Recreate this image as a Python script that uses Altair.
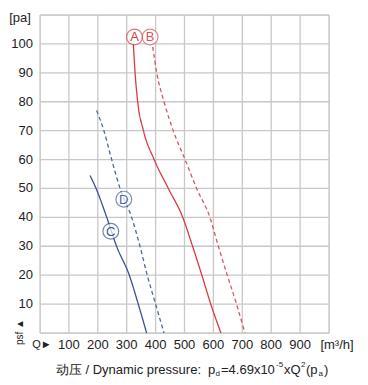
import altair as alt
import pandas as pd

FONT = "Liberation Sans"

# Curve data (Q in m3/h, static pressure in Pa)
a_q = [323, 329, 338, 358, 395, 444, 494, 528, 560, 591, 626]
a_p = [100, 90, 80, 70, 60, 50, 40, 30, 20, 10, 0]
b_q = [390, 404, 429, 461, 502, 542, 588, 617, 648, 680, 709]
b_p = [99, 90, 80, 70, 60, 50, 40, 30, 20, 10, 0]
c_q = [173, 194, 231, 265, 309, 340, 369]
c_p = [54.5, 50, 40, 30, 20, 10, 0]
d_q = [196, 221, 248, 277, 317, 346, 371, 400, 429]
d_p = [77, 70, 60, 50, 40, 30, 20, 10, 0]

# Curve label markers
labels = ["A", "B", "C", "D"]
label_q = [327, 381, 245, 290]
label_p = [102.4, 102.4, 35.2, 46.3]

series_names = ["A", "B", "C", "D"]
series_colors = ["#d63c46", "#d9555d", "#3a5290", "#4a679f"]
series_dash = [[1, 0], [4, 3], [1, 0], [4, 3]]

# Grid and tick labels
x_grid = [0, 100, 200, 300, 400, 500, 600, 700, 800, 900, 1000]
y_grid = [0, 10, 20, 30, 40, 50, 60, 70, 80, 90, 100, 110]
x_tick_labels = [100, 200, 300, 400, 500, 600, 700, 800, 900]
y_tick_labels = [10, 20, 30, 40, 50, 60, 70, 80, 90, 100]

rows = []
for name, qs, ps in [("A", a_q, a_p), ("B", b_q, b_p), ("C", c_q, c_p), ("D", d_q, d_p)]:
    for q, p in zip(qs, ps):
        rows.append({"s": name, "q": q, "p": p})
df = pd.DataFrame(rows)
lab_df = pd.DataFrame({"s": labels, "q": label_q, "p": label_p})

W, H = 289, 318
GRID = "#c8c8c8"

xscale = alt.Scale(domain=[0, 1000], nice=False)
yscale = alt.Scale(domain=[0, 110], nice=False)
cscale = alt.Scale(domain=series_names, range=series_colors)
dscale = alt.Scale(domain=series_names, range=series_dash)

X = alt.X("q:Q", scale=xscale, axis=None)
Y = alt.Y("p:Q", scale=yscale, axis=None)

vgrid = alt.Chart(pd.DataFrame({"q": x_grid})).mark_rule(color=GRID, strokeWidth=1.3).encode(
    x=X, y=alt.value(0), y2=alt.value(H))
hgrid = alt.Chart(pd.DataFrame({"p": y_grid})).mark_rule(color=GRID, strokeWidth=1.3).encode(
    y=Y, x=alt.value(0), x2=alt.value(W))

xlabels = alt.Chart(pd.DataFrame({"q": x_tick_labels})).mark_text(
    font=FONT, fontSize=13, color="#222", baseline="middle", align="center").encode(
    x=X, y=alt.value(H + 12), text=alt.Text("q:Q"))
ylabels = alt.Chart(pd.DataFrame({"p": y_tick_labels})).mark_text(
    font=FONT, fontSize=13, color="#222", baseline="middle", align="right").encode(
    y=Y, x=alt.value(-7), text=alt.Text("p:Q"))

lines = alt.Chart(df).mark_line(strokeWidth=1.3, interpolate="monotone").encode(
    x=X, y=Y,
    color=alt.Color("s:N", scale=cscale, legend=None),
    strokeDash=alt.StrokeDash("s:N", scale=dscale, legend=None),
    detail="s:N",
)

circles = alt.Chart(lab_df).mark_point(shape="circle", filled=True, size=250, strokeWidth=1.2).encode(
    x=X, y=Y,
    fill=alt.value("white"),
    stroke=alt.Color("s:N", scale=cscale, legend=None),
)
letters = alt.Chart(lab_df).mark_text(font=FONT, fontSize=13, baseline="middle", align="center", dy=0.5).encode(
    x=X, y=Y,
    text="s:N",
    color=alt.Color("s:N", scale=cscale, legend=None),
)


def label(text, x, y, size=13, align="left", angle=0, color="#222"):
    return alt.Chart(alt.Data(values=[{}])).mark_text(
        text=text, align=align, baseline="middle", fontSize=size, angle=angle,
        font=FONT, color=color
    ).encode(x=alt.value(x), y=alt.value(y))


cy = 355
texts = [
    label("[pa]", -20, 2.5, align="center"),
    label("psf ▲", -20, 317, size=10, align="center", angle=270),
    label("Q►", 2, 330, size=11, align="center"),
    label("[m³/h]", 297, 330, align="center"),
    label("动压 / Dynamic pressure:", 161, cy, align="right"),
    label("p", 168, cy),
    label("d", 175.5, cy + 4, size=8),
    label("=4.69x10", 181, cy),
    label("-5", 236, cy - 5, size=8),
    label("xQ", 244, cy),
    label("2", 261, cy - 5, size=8),
    label("(p", 266, cy),
    label("a", 278.5, cy + 4, size=8),
    label(")", 284, cy),
]

chart = alt.layer(vgrid, hgrid, xlabels, ylabels, lines, circles, letters, *texts).properties(
    width=W, height=H,
    autosize=alt.AutoSizeParams(type="none"),
    padding={"left": 32, "top": 7, "right": 28, "bottom": 50},
).configure_view(stroke=GRID, strokeWidth=1.3).configure(background="white")

chart.save("out.html", embed_options={"renderer": "svg", "actions": False})
